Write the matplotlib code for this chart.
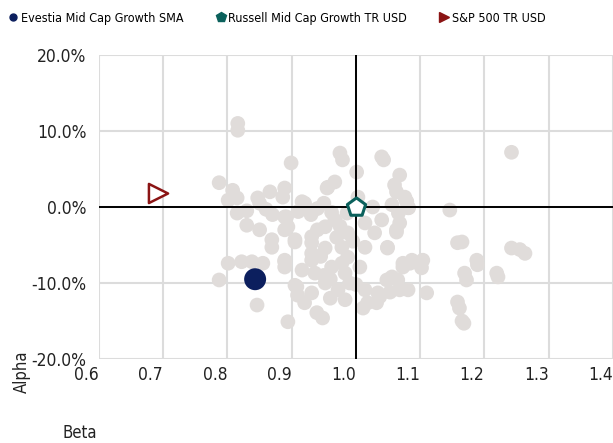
import matplotlib.pyplot as plt
from matplotlib.lines import Line2D

plt.rcParams['font.family'] = ['DejaVu Sans']
plt.rcParams['font.stretch'] = 'condensed'

# peer group (beta, alpha %)
peer_beta = [
    0.816, 0.816, 0.899, 0.787, 0.808, 0.801, 0.815, 0.847, 0.866, 0.889,
    0.886, 0.850, 0.916, 0.920, 0.975, 0.979, 1.001, 1.040, 1.043, 1.068,
    1.060, 1.063, 1.079, 1.082, 0.967, 0.955, 1.003, 0.815, 0.830, 0.850,
    0.869, 0.869, 0.889, 0.894, 0.905, 0.931, 0.931, 0.801, 0.822, 0.838,
    0.855, 0.889, 0.889, 0.787, 0.846, 0.894, 0.905, 0.909, 0.920, 0.939,
    0.948, 0.830, 0.860, 0.870, 0.910, 0.930, 0.940, 0.950, 0.892, 0.889,
    0.905, 0.931, 0.952, 0.967, 0.962, 0.889, 0.931, 0.952, 0.962, 0.978,
    0.983, 0.908, 0.931, 0.952, 0.972, 0.983, 0.978, 0.936, 0.916, 0.956,
    1.076, 1.056, 1.026, 1.040, 1.029, 1.049, 1.073, 1.087, 1.056, 1.065,
    1.081, 1.014, 1.034, 1.018, 0.986, 0.987, 0.987, 1.014, 1.014, 1.006,
    1.011, 1.032, 1.053, 1.068, 1.048, 1.037, 1.073, 1.084, 1.104, 1.102,
    1.110, 1.063, 1.063, 1.068, 1.066, 1.081, 1.079, 1.049, 1.146, 1.158,
    1.165, 1.188, 1.189, 1.219, 1.221, 1.242, 1.255, 1.263, 1.242, 1.158,
    1.161, 1.165, 1.168, 1.169, 1.172, 0.940, 0.970, 0.950, 0.960, 0.990,
    1.000, 0.945, 0.975, 0.960, 0.995,
]
peer_alpha = [
    11.0, 10.1, 5.8, 3.2, 2.2, 0.9, 1.2, 1.2, 2.0, 2.5,
    1.3, 0.5, 0.7, 0.5, 7.1, 6.2, 4.6, 6.6, 6.2, 4.2,
    2.9, 2.0, 0.7, -0.1, 3.3, 2.5, 1.3, -0.8, -2.4, -3.0,
    -4.3, -5.3, -1.3, -2.6, -4.3, -4.7, -7.0, -7.4, -7.2, -7.2,
    -7.4, -7.0, -7.9, -9.6, -12.9, -15.1, -10.3, -11.6, -12.6, -13.9,
    -14.6, -0.5, -0.3, -1.0, -0.6, -1.0, -0.2, 0.5, -1.3, -3.0,
    -4.6, -3.9, -2.6, -1.7, -0.7, -7.2, -6.1, -5.4, -7.9, -7.4,
    -8.7, -10.5, -11.3, -10.0, -10.9, -12.2, -5.3, -8.7, -8.3, 2.6,
    1.3, 0.3, 0.0, -1.7, -3.4, -5.3, -7.4, -7.0, -9.2, -9.6,
    -10.9, -10.9, -11.3, -12.6, -0.8, -3.4, -6.6, -5.3, -2.1, -7.9,
    -13.3, -12.6, -11.2, -10.9, -9.6, -11.8, -7.9, -7.4, -7.0, -8.0,
    -11.3, -3.0, -3.3, -2.1, -0.8, -0.1, 0.7, -5.4, -0.4, -4.7,
    -4.6, -7.0, -7.6, -8.7, -9.2, -5.4, -5.6, -6.1, 7.2, -12.5,
    -13.3, -15.0, -15.3, -8.7, -9.6, -3.0, -4.0, -9.0, -12.0, -10.0,
    -10.2, -6.5, -2.5, -9.5, -4.5,
]

fund_name = "Evestia Mid Cap Growth SMA"
fund_beta, fund_alpha = 0.843, -9.5
bench_name = "Russell Mid Cap Growth TR USD"
bench_beta, bench_alpha = 1.0, 0.0
sp_name = "S&P 500 TR USD"
sp_beta, sp_alpha = 0.692, 1.8

x_ticks = [0.6, 0.7, 0.8, 0.9, 1.0, 1.1, 1.2, 1.3, 1.4]
y_ticks = [-20, -10, 0, 10, 20]

navy = "#0c1f5e"
teal = "#0b615c"
red = "#8b1414"
grey = "#e0dcda"

fig = plt.figure(figsize=(6.13, 4.43), dpi=100)
ax = fig.add_axes([0.1615, 0.1896, 0.8385, 0.6862])

ax.scatter(peer_beta, peer_alpha, s=112, color=grey, edgecolors='none', zorder=2)
ax.axvline(bench_beta, color='black', lw=1.4, zorder=3)
ax.axhline(bench_alpha, color='black', lw=1.4, zorder=3)
ax.scatter([fund_beta], [fund_alpha], s=250, color=navy, edgecolors='none', zorder=4)
ax.scatter([bench_beta], [bench_alpha], s=190, marker='p', facecolor='white',
           edgecolors=teal, linewidths=2.2, zorder=5)
ax.scatter([sp_beta], [sp_alpha], s=190, marker='>', facecolor='white',
           edgecolors=red, linewidths=1.8, zorder=5)

ax.set_xlim(0.6, 1.4)
ax.set_ylim(-20, 20)
ax.set_xticks(x_ticks)
ax.set_xticklabels([f"{v:.1f}" for v in x_ticks], ha='right')
ax.set_yticks(y_ticks)
ax.set_yticklabels([f"{v:.1f}%" for v in y_ticks])
ax.grid(True, color='#dcdcdc', lw=1.5, zorder=0)
ax.set_axisbelow(True)
for s in ax.spines.values():
    s.set_visible(False)
ax.tick_params(length=0, labelsize=12.5, colors='#222222', pad=9)
ax.tick_params(axis='x', pad=5)

fig.text(0.035, 0.16, "Alpha", rotation=90, fontsize=12, color='#222222',
         ha='center', va='center')
fig.text(0.13, 0.022, "Beta", fontsize=12, color='#222222', ha='center', va='center')

handles = [
    Line2D([], [], ls='none', marker='o', ms=5, color=navy, label=fund_name),
    Line2D([], [], ls='none', marker='p', ms=7, color=teal, label=bench_name),
    Line2D([], [], ls='none', marker='>', ms=7, color=red, label=sp_name),
]
fig.legend(handles=handles, loc='upper left', bbox_to_anchor=(0.005, 0.985), ncol=3,
           frameon=False, fontsize=9, handlelength=0.8, handletextpad=0.2,
           columnspacing=2.6, borderaxespad=0)

fig.savefig("out.png", dpi=100)
